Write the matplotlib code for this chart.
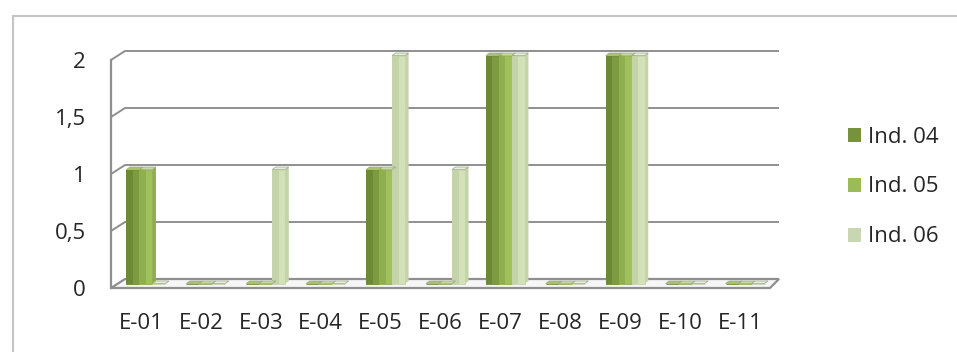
import numpy as np
import matplotlib.pyplot as plt
from matplotlib.patches import Polygon, Rectangle, Patch

plt.rcParams['font.family'] = ['Open Sans', 'DejaVu Sans']

# data
categories = ['E-01', 'E-02', 'E-03', 'E-04', 'E-05', 'E-06', 'E-07', 'E-08', 'E-09', 'E-10', 'E-11']
ind04 = [1, 0, 0, 0, 1, 0, 2, 0, 2, 0, 0]
ind05 = [1, 0, 0, 0, 1, 0, 2, 0, 2, 0, 0]
ind06 = [0, 0, 1, 0, 2, 1, 2, 0, 2, 0, 0]
series_names = ['Ind. 04', 'Ind. 05', 'Ind. 06']
yticks = [0, 0.5, 1, 1.5, 2]
ytick_labels = ['0', '0,5', '1', '1,5', '2']

# face / shade / top colours per series
face = ['#7d9c41', '#a0c05c', '#d3e1b9']
shade = ['#6c8a36', '#8fae4f', '#c4d3a8']
top = ['#a9c278', '#c6db9a', '#e6eedb']
legend_col = ['#76923c', '#9bbb59', '#c9d6b2']
text_col = '#262626'

W, H = 957, 352
fig = plt.figure(figsize=(W / 100, H / 100), dpi=100)

# front plane of the plot: x from 111px to 770px, y=0 at 288px, 114px per unit
px_x = 659 / 11.0
px_y = 114.0
ymax = 2.2
ax = fig.add_axes([111 / W, (H - 288) / H, 659 / W, px_y * ymax / H])
ax.set_xlim(-0.5, 10.5)
ax.set_ylim(0, ymax)
for s in ax.spines.values():
    s.set_visible(False)

# depth offsets (px -> data units)
back_dx_l = 14 / px_x
back_dx_r = 9 / px_x
back_dy = 9 / px_y
mid_dx = 5 / px_x
mid_dy = 4.5 / px_y
bar_ddx = 3.5 / px_x
bar_ddy = 2.5 / px_y

grid_col = '#8f8f8f'

# floor
floor = Polygon([(-0.5, 0), (10.5, 0), (10.5 + back_dx_r, back_dy), (-0.5 + back_dx_l, back_dy)],
                closed=True, facecolor='#f6f6f6', edgecolor=grid_col, lw=1.6, clip_on=False, zorder=1)
ax.add_patch(floor)

# back wall gridlines with their left-wall edge
for v in yticks[1:]:
    ax.plot([-0.5, -0.5 + back_dx_l, 10.5 + back_dx_r], [v, v + back_dy, v + back_dy],
            color=grid_col, lw=1.4, clip_on=False, zorder=1, solid_capstyle='butt')
ax.plot([-0.5, -0.5], [0, 2], color=grid_col, lw=1.6, clip_on=False, zorder=1)

# bars: front face with darker left half, thin right side and top cap
x = np.arange(len(categories))
w = 0.217
for k, vals in enumerate([ind04, ind05, ind06]):
    xs = x + mid_dx + (k - 1) * w
    ax.bar(xs, vals, w, bottom=mid_dy, color=face[k], edgecolor=shade[k], lw=0.6, zorder=3)
    ax.bar(xs - w * 0.25, vals, w * 0.5, bottom=mid_dy, color=shade[k], lw=0, zorder=3)
    for xc, v in zip(xs, vals):
        x0, x1 = xc - w / 2, xc + w / 2
        yt = mid_dy + v
        side = Polygon([(x1, mid_dy), (x1 + bar_ddx, mid_dy + bar_ddy), (x1 + bar_ddx, yt + bar_ddy), (x1, yt)],
                       closed=True, facecolor=shade[k], edgecolor='none', zorder=2.9, clip_on=False)
        cap = Polygon([(x0, yt), (x1, yt), (x1 + bar_ddx, yt + bar_ddy), (x0 + bar_ddx, yt + bar_ddy)],
                      closed=True, facecolor=top[k], edgecolor='#9aa58a', lw=0.5, zorder=3.1, clip_on=False)
        ax.add_patch(side)
        ax.add_patch(cap)

ax.set_xticks(x)
ax.set_xticklabels(categories, fontsize=16, color=text_col)
ax.set_yticks(yticks)
ax.set_yticklabels(ytick_labels, fontsize=16, color=text_col)
ax.tick_params(axis='x', length=0, pad=18)
ax.tick_params(axis='y', length=0, pad=18)

# legend
handles = [Patch(facecolor=c, edgecolor='none') for c in legend_col]
fig.legend(handles, series_names, loc='center left', bbox_to_anchor=(828 / W, 1 - 187 / H),
           frameon=False, fontsize=16, handlelength=0.6, handleheight=0.6,
           handletextpad=0.3, labelspacing=1.3, labelcolor=text_col)

# chart area border (left and top edges)
fig.add_artist(Rectangle((13 / W, -0.1), 1.2, 1.1 - 16 / H, transform=fig.transFigure,
                         fill=False, edgecolor='#c4c4c4', lw=1.5))

fig.savefig('out.png', dpi=100, facecolor='white')
